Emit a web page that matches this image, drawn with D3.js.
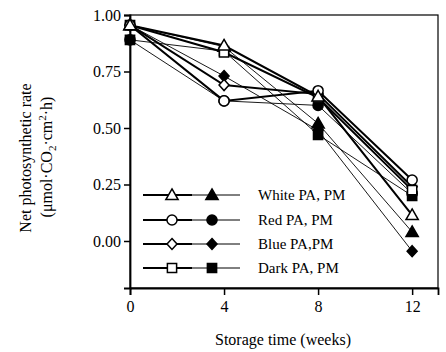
<!DOCTYPE html>
<html>
<head>
<meta charset="utf-8">
<script src="https://cdn.jsdelivr.net/npm/d3@7"></script>
<style>
  body { margin: 0; background: #fff; }
  svg { font-family: "Liberation Serif", "DejaVu Serif", serif; }
</style>
</head>
<body>
<svg id="chart" width="446" height="352"></svg>
<script>
const weeks = [0, 4, 8, 12];
const xTicks = [0, 4, 8, 12];
const yTicks = [0, 0.25, 0.5, 0.75, 1.0];

const whitePA = [0.955, 0.865, 0.64, 0.115];
const whitePM = [0.955, 0.86, 0.52, 0.04];
const redPA = [0.955, 0.62, 0.665, 0.27];
const redPM = [0.89, 0.62, 0.60, 0.21];
const bluePA = [0.955, 0.69, 0.65, 0.24];
const bluePM = [0.955, 0.73, 0.49, -0.045];
const darkPA = [0.955, 0.835, 0.635, 0.225];
const darkPM = [0.89, 0.84, 0.47, 0.20];

const legendLabels = ['White PA, PM', 'Red PA, PM', 'Blue PA,PM', 'Dark PA, PM'];

const series = [
  { name: 'Dark PM', values: darkPM, shape: 'square', filled: true },
  { name: 'Red PM', values: redPM, shape: 'circle', filled: true },
  { name: 'Blue PM', values: bluePM, shape: 'diamond', filled: true },
  { name: 'White PM', values: whitePM, shape: 'triangle', filled: true },
  { name: 'Blue PA', values: bluePA, shape: 'diamond', filled: false },
  { name: 'Dark PA', values: darkPA, shape: 'square', filled: false },
  { name: 'Red PA', values: redPA, shape: 'circle', filled: false },
  { name: 'White PA', values: whitePA, shape: 'triangle', filled: false }
];

const svg = d3.select('#chart');
const margin = { left: 130, right: 8, top: 15, bottom: 64 };
const W = 446, H = 352;

const x = d3.scaleLinear().domain([0, 13.1]).range([margin.left, W - margin.right]);
const y = d3.scaleLinear().domain([-0.208, 1.0]).range([H - margin.bottom, margin.top]);

// frame (top + right thinner)
svg.append('rect')
  .attr('x', x(0)).attr('y', y(1))
  .attr('width', x(13.1) - x(0)).attr('height', y(-0.208) - y(1))
  .attr('fill', 'none').attr('stroke', '#000').attr('stroke-width', 1.2);

const xAxis = svg.append('g')
  .attr('transform', `translate(0,${y(-0.208)})`)
  .call(d3.axisBottom(x).tickValues(xTicks).tickSize(7).tickPadding(6).tickFormat(d3.format('d')));
const yAxis = svg.append('g')
  .attr('transform', `translate(${x(0)},0)`)
  .call(d3.axisLeft(y).tickValues(yTicks).tickSize(6).tickPadding(3).tickFormat(d3.format('.2f')));

[xAxis, yAxis].forEach(g => {
  g.select('.domain').attr('stroke-width', 1.8);
  g.selectAll('.tick line').attr('stroke-width', 1.5);
  g.selectAll('.tick text').attr('font-size', 16).attr('font-family', '"Liberation Serif", serif').attr('fill', '#000');
});

// diamond as a rotated square, wider than d3's symbolDiamond
const diamondType = {
  draw(ctx, size) {
    const r = Math.sqrt(size / 2);
    ctx.moveTo(0, -r * 1.1);
    ctx.lineTo(r, 0);
    ctx.lineTo(0, r * 1.1);
    ctx.lineTo(-r, 0);
    ctx.closePath();
  }
};

function shapePath(shape, size) {
  const sym = { square: d3.symbolSquare, circle: d3.symbolCircle, diamond: diamondType, triangle: d3.symbolTriangle }[shape];
  return d3.symbol().type(sym).size(size)();
}
const sizes = { square: 85, circle: 80, diamond: 50, triangle: 65 };

function drawMarker(g, shape, filled, cx, cy) {
  g.append('path')
    .attr('d', shapePath(shape, sizes[shape]))
    .attr('transform', `translate(${cx},${cy + (shape === 'triangle' ? 1 : 0)})`)
    .attr('fill', filled ? '#000' : '#fff')
    .attr('stroke', '#000')
    .attr('stroke-width', 1.5);
}

const line = d3.line().x((d, i) => x(weeks[i])).y(d => y(d));

const plot = svg.append('g');
series.forEach(s => {
  plot.append('path')
    .attr('d', line(s.values))
    .attr('fill', 'none')
    .attr('stroke', '#000')
    .attr('stroke-width', s.filled ? 0.9 : 2);
});
series.forEach(s => {
  s.values.forEach((v, i) => drawMarker(plot, s.shape, s.filled, x(weeks[i]), y(v)));
});

// legend
const legendShapes = ['triangle', 'circle', 'diamond', 'square'];
const legendY = [195, 220, 244, 268];
const leg = svg.append('g');
legendLabels.forEach((label, i) => {
  const ly = legendY[i];
  leg.append('line').attr('x1', 143).attr('x2', 192).attr('y1', ly).attr('y2', ly)
    .attr('stroke', '#000').attr('stroke-width', 1.8);
  leg.append('line').attr('x1', 192).attr('x2', 240).attr('y1', ly).attr('y2', ly)
    .attr('stroke', '#000').attr('stroke-width', 1);
  drawMarker(leg, legendShapes[i], false, 172, ly);
  drawMarker(leg, legendShapes[i], true, 212, ly);
  leg.append('text').attr('x', 258).attr('y', ly + 5)
    .attr('font-size', 15).text(label);
});

// axis titles
svg.append('text')
  .attr('x', 283).attr('y', 345)
  .attr('text-anchor', 'middle').attr('font-size', 16)
  .text('Storage time (weeks)');

svg.append('text')
  .attr('transform', 'translate(31,158) rotate(-90)')
  .attr('text-anchor', 'middle').attr('font-size', 16)
  .text('Net photosynthetic rate');
const yt2 = svg.append('text')
  .attr('transform', 'translate(52,157) rotate(-90)')
  .attr('text-anchor', 'middle').attr('font-size', 16);
yt2.append('tspan').text('(μmol·CO');
yt2.append('tspan').attr('font-size', 11).attr('dy', 4).text('2');
yt2.append('tspan').attr('dy', -4).text('·cm');
yt2.append('tspan').attr('font-size', 11).attr('dy', -6).text('2');
yt2.append('tspan').attr('dy', 6).text('·h)');
</script>
</body>
</html>
